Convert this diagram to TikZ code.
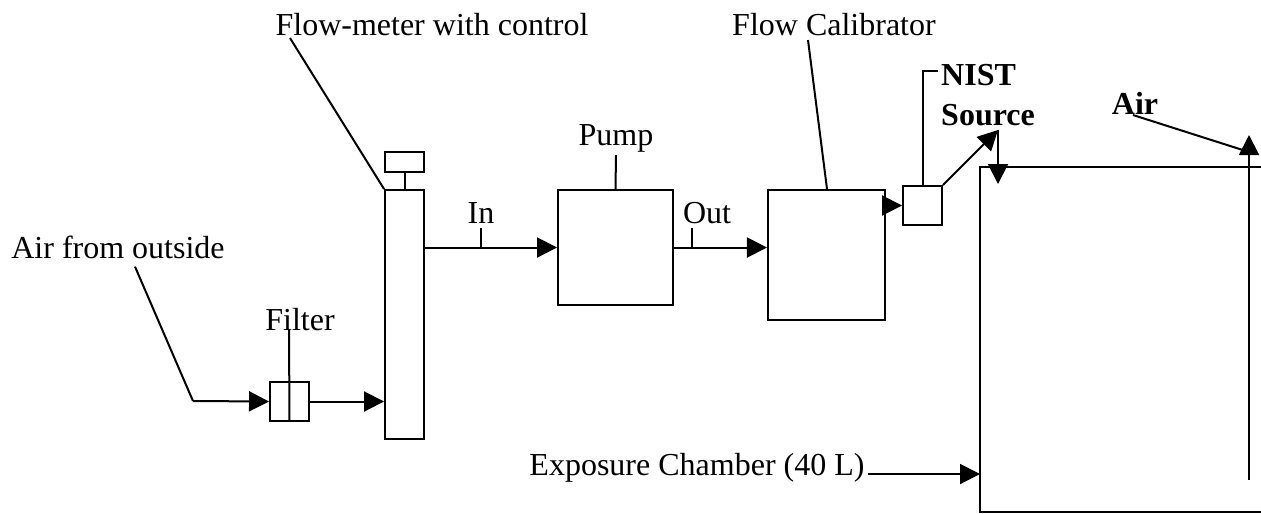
\documentclass[tikz,border=0pt]{standalone}
\usepackage{fontspec}
\setmainfont{Liberation Serif}
\usetikzlibrary{arrows.meta,positioning}
\tikzset{
  unit/.style={draw, line width=0.75pt, inner sep=0pt, minimum width=#1},
  lbl/.style={inner sep=1pt, font=\fontsize{12}{14.5}\selectfont},
  flow/.style={-{Triangle[length=7.5pt,width=7.5pt]}, line width=0.75pt},
  lead/.style={line width=0.75pt}
}
\begin{document}
\begin{tikzpicture}[x=0.375pt, y=-0.375pt]
	\useasboundingbox (0,0) rectangle (1261,513);
	% units of the set-up
	\node[unit=14.6pt, minimum height=93.4pt] (tube) at (404.5,314.5) {};
	\node[unit=14.6pt, minimum height=7.5pt] (ctrl) at (404.5,162) {};
	\node[unit=14.6pt, minimum height=14.6pt] (filter) at (289.5,401.5) {};
	\node[unit=43.1pt, minimum height=43.1pt] (pump) at (615.5,247.5) {};
	\node[unit=43.9pt, minimum height=48.8pt] (calib) at (826.5,255) {};
	\node[unit=14.6pt, minimum height=14.6pt] (nist) at (922.5,205.5) {};
	% chamber, open at the right edge
	\coordinate (chTL) at (980,167);
	\coordinate (chBL) at (980,512);
	\draw[lead] (1262,167) -- (chTL) -- (chBL) -- (1262,512);
	% labels
	\node[lbl] (airout) at (118,247) {Air from outside};
	\node[lbl] (fmlab) at (432,25) {Flow-meter with control};
	\node[lbl] (filtlab) at (300,320) {Filter};
	\node[lbl] (inlab) at (481,213) {In};
	\node[lbl] (outlab) at (707,213) {Out};
	\node[lbl] (pumplab) at (616,138) {Pump};
	\node[lbl] (callab) at (834,25) {Flow Calibrator};
	\node[lbl, font=\fontsize{12}{15}\selectfont\bfseries, align=left, anchor=west] (nistlab) at (938,95) {NIST\\Source};
	\node[lbl, font=\fontsize{12}{14.5}\selectfont\bfseries] (airlab) at (1135,103) {Air};
	\node[lbl] (chlab) at (697,468) {Exposure Chamber (40 L)};
	% flow path
	\coordinate (src) at (193,401);
	\draw[lead] (airout.south) ++(17,5) -- (src);
	\draw[flow] (src) -- (filter.west);
	\draw[flow] (filter.east) -- (tube.west |- filter.east);
	\draw[flow] (tube.east |- pump.west) -- (pump.west);
	\draw[flow] (pump.east) -- (calib.west |- pump.east);
	\draw[flow] (calib.east |- nist.west) -- (nist.west);
	\coordinate (top) at (998,130);
	\draw[flow] (nist.north east) -- (top);
	\draw[flow] (top) -- (998,184);
	\draw[flow] (1249,480) -- (1249,135);
	\draw[flow] (chlab.east) ++(0,6) -- (chTL |- 0,474);
	% leaders
	\draw[lead] (ctrl.south) -- (tube.north);
	\draw[lead] (290,38) -- (tube.north west);
	\draw[lead] (289,330) -- (filter.south);
	\draw[lead] (481,228) -- (481,248);
	\draw[lead] (692,228) -- (692,248);
	\draw[lead] (pumplab.south) -- (pump.north);
	\draw[lead] (808,40) -- (calib.north -| 827,0);
	\draw[lead] (nist.north) |- (nistlab.west |- 0,71);
	\draw[lead] (1133,115) -- (1249,152);
\end{tikzpicture}
\end{document}
